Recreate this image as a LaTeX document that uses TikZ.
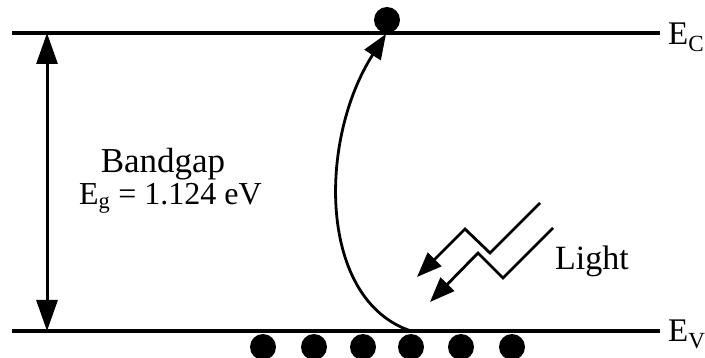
\documentclass[tikz,border=0pt]{standalone}
\usepackage{fontspec}
\setmainfont{Liberation Serif}
\usetikzlibrary{arrows.meta}
\begin{document}
\begin{tikzpicture}[x=1pt,y=-1pt,
  level/.style={line width=3.2pt},
  dot/.style={circle,fill=black,inner sep=0pt,minimum size=26pt},
  arr/.style={line width=2.8pt,-{Triangle[length=25pt,width=19pt]}},
  lbl/.style={font=\fontsize{33}{38}\selectfont,inner sep=0pt}]
\useasboundingbox (0,0) rectangle (705,358);
\coordinate (c1) at (12,33); \coordinate (c2) at (660,33);
\coordinate (v1) at (12,331); \coordinate (v2) at (660,331);
\draw[level] (c1) -- (c2);
\draw[level] (v1) -- (v2);
\node[lbl,anchor=base west] (EC) at (668,45) {E\textsubscript{C}};
\node[lbl,anchor=base west] (EV) at (668,342) {E\textsubscript{V}};
\coordinate (bt) at (47,33); \coordinate (bb) at (47,331);
\draw[line width=3pt,{Triangle[length=31pt,width=21pt]}-{Triangle[length=31pt,width=21pt]}] (bt) -- (bb);
\node[lbl,anchor=base,font=\fontsize{35}{40}\selectfont] (bg) at (163,173) {Bandgap};
\node[lbl,anchor=base west,font=\fontsize{32}{38}\selectfont] (eg) at (79,205) {E\textsubscript{g} = 1.124 eV};
\node[dot] (top) at (387,20) {};
\foreach \i/\x in {1/263,2/314,3/363,4/411,5/461,6/512}{\node[dot] (d\i) at (\x,347) {};}
\coordinate (s) at (411,331);
\coordinate (e) at (386,34);
\draw[arr] (s) .. controls (318,300) and (318,140) .. (e);
\coordinate (a1) at (540,203); \coordinate (a2) at (490,253); \coordinate (a3) at (465,229); \coordinate (a4) at (417,277);
\draw[arr] (a1) -- (a2) -- (a3) -- (a4);
\coordinate (b1) at (553,228); \coordinate (b2) at (503,278); \coordinate (b3) at (478,253); \coordinate (b4) at (430,302);
\draw[arr] (b1) -- (b2) -- (b3) -- (b4);
\node[lbl,anchor=base west,font=\fontsize{34}{40}\selectfont] (light) at (555,270) {Light};
\end{tikzpicture}
\end{document}
